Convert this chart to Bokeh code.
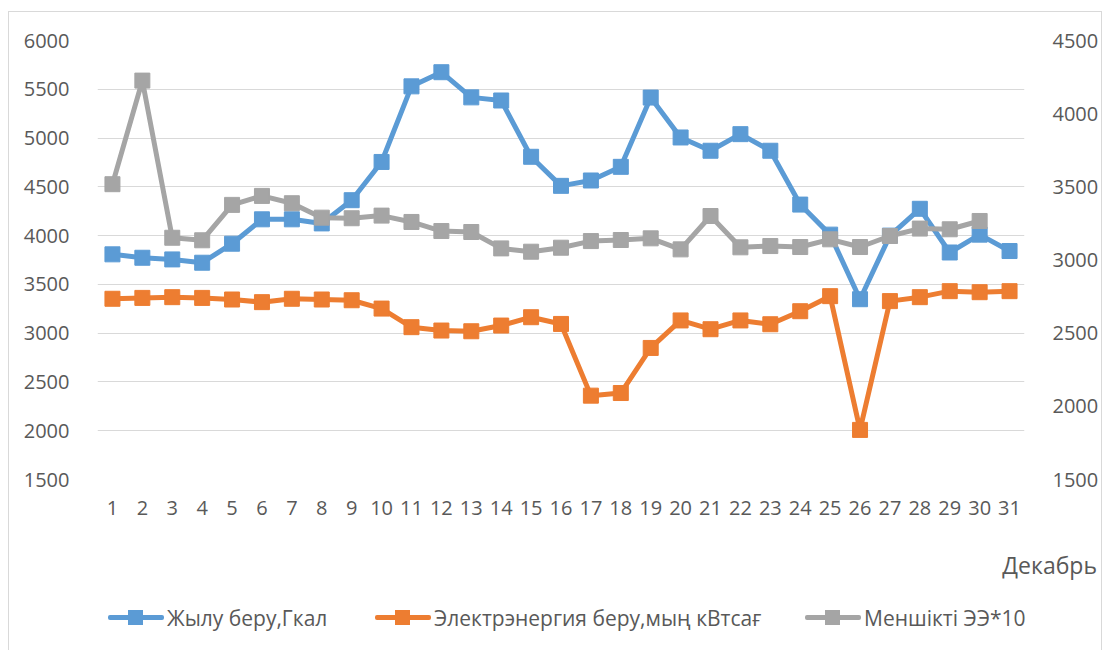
from bokeh.plotting import figure
from bokeh.layouts import column
from bokeh.models import Range1d, LinearAxis, FixedTicker, Div
from bokeh.embed import file_html
from bokeh.resources import INLINE

days = list(range(1, 32))
day_labels = [str(d) for d in days]

heat = [3808, 3773, 3756, 3722, 3917, 4167, 4167, 4125, 4363, 4755,
        5530, 5675, 5417, 5385, 4808, 4510, 4565, 4705, 5415, 5006,
        4870, 5040, 4870, 4318, 4010, 3348, 4000, 4275, 3827, 4010, 3842]

elec = [2735, 2741, 2746, 2741, 2730, 2712, 2735, 2730, 2725, 2668,
        2541, 2518, 2513, 2552, 2609, 2563, 2073, 2091, 2399, 2587,
        2527, 2587, 2561, 2650, 2753, 1839, 2719, 2746, 2787, 2780, 2787]

spec = [4527, 5589, 3978, 3952, 4315, 4407, 4332, 4184, 4178, 4205,
        4140, 4047, 4037, 3869, 3835, 3876, 3944, 3955, 3972, 3859,
        4201, 3880, 3893, 3883, 3962, 3883, 3996, 4072, 4065, 4150]
spec_days = days[:len(spec)]

names = ["Жылу беру,Гкал", "Электрэнергия беру,мың кВтсағ", "Меншікті ЭЭ*10"]
colors = ["#5B9BD5", "#ED7D31", "#A5A5A5"]
left_ticks = [1500, 2000, 2500, 3000, 3500, 4000, 4500, 5000, 5500, 6000]
right_ticks = [1500, 2000, 2500, 3000, 3500, 4000, 4500]
x_title = "Декабрь"

FONT = "Open Sans"
TXT = "#595959"
W = 1092

p = figure(width=W, height=512, output_backend="svg", toolbar_location=None,
           x_range=Range1d(0.5, 31.5), y_range=Range1d(1500, 6000),
           min_border_left=88, min_border_right=68, min_border_top=28, min_border_bottom=45)
p.extra_y_ranges = {"right": Range1d(1500, 4500)}
p.outline_line_color = None
p.background_fill_color = "white"
p.border_fill_color = "white"

p.xgrid.grid_line_color = None
p.ygrid.grid_line_color = "#D9D9D9"
p.ygrid.grid_line_width = 1
p.ygrid.ticker = FixedTicker(ticks=left_ticks)

def style_axis(ax):
    ax.axis_line_color = None
    ax.major_tick_line_color = None
    ax.minor_tick_line_color = None
    ax.major_label_text_font = FONT
    ax.major_label_text_font_size = "20px"
    ax.major_label_text_color = TXT

p.xaxis.ticker = FixedTicker(ticks=days)
p.xaxis.major_label_overrides = {d: l for d, l in zip(days, day_labels)}
p.yaxis.ticker = FixedTicker(ticks=left_ticks)
style_axis(p.xaxis[0])
style_axis(p.yaxis[0])
p.xaxis.major_label_standoff = 15
p.yaxis.major_label_standoff = 22

rax = LinearAxis(y_range_name="right", ticker=FixedTicker(ticks=right_ticks))
style_axis(rax)
rax.major_label_standoff = 22
p.add_layout(rax, "right")

p.line(days, heat, line_color=colors[0], line_width=5)
p.scatter(days, heat, marker="square", size=15, fill_color=colors[0], line_color=colors[0])
p.line(days, elec, line_color=colors[1], line_width=5, y_range_name="right")
p.scatter(days, elec, marker="square", size=15, fill_color=colors[1], line_color=colors[1], y_range_name="right")
p.line(spec_days, spec, line_color=colors[2], line_width=5)
p.scatter(spec_days, spec, marker="square", size=15, fill_color=colors[2], line_color=colors[2])

# lower strip: x-axis title and legend (HTML text)
H2 = 130
item_x = [99, 366, 796]
parts = [f'<div style="position:absolute;right:4px;top:26px;height:30px;line-height:30px;'
         f'font-size:23px;white-space:nowrap;">{x_title}</div>']
for x0, name, c in zip(item_x, names, colors):
    parts.append(
        f'<div style="position:absolute;left:{x0}px;top:79px;height:30px;white-space:nowrap;">'
        f'<div style="position:absolute;left:0;top:12px;width:56px;height:5px;border-radius:2px;background:{c};"></div>'
        f'<div style="position:absolute;left:20px;top:7px;width:15px;height:15px;background:{c};"></div>'
        f'<div style="position:absolute;left:59px;top:0;height:30px;line-height:30px;font-size:21px;">{name}</div>'
        f'</div>')
html = (f'<div style="position:relative;width:{W}px;height:{H2}px;font-family:\'{FONT}\';'
        f'color:{TXT};background:white;">' + "".join(parts) + '</div>')
q = Div(text=html, width=W, height=H2, styles={"margin": "0", "padding": "0"})

lay = column(p, q, spacing=0)
lay.styles = {"border": "1px solid #d9d9d9", "margin-left": "8px", "margin-top": "11px",
              "background-color": "white"}

open("out.html", "w").write(file_html(lay, INLINE))
